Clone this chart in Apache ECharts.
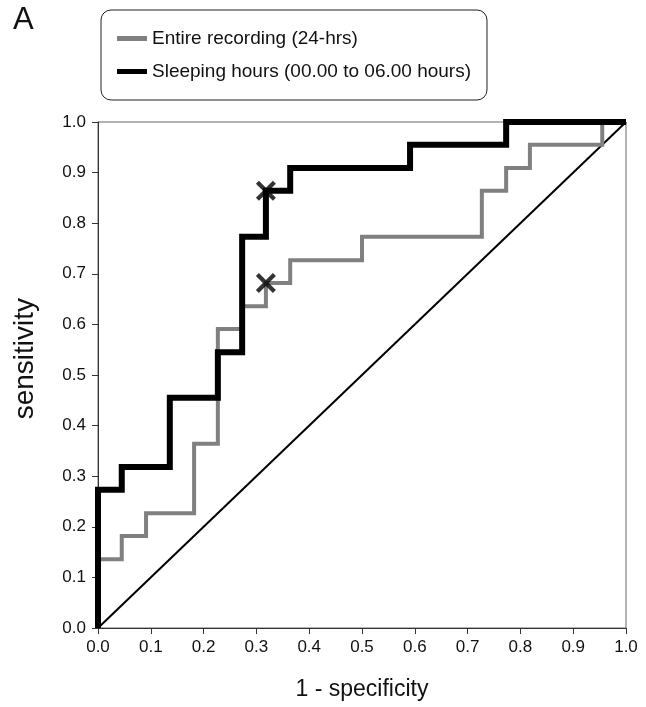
<!DOCTYPE html>
<html>
<head>
<meta charset="utf-8">
<script src="https://cdn.jsdelivr.net/npm/echarts@6/dist/echarts.min.js"></script>
<style>
html,body{margin:0;padding:0;background:#fff;}
#chart{width:646px;height:707px;}
</style>
</head>
<body>
<div id="chart"></div>
<script>
// ROC curve corner points (1 - specificity, sensitivity)
var entireFPR = [0,0,0.045,0.045,0.091,0.091,0.182,0.182,0.227,0.227,0.273,0.273,0.318,0.318,0.364,0.364,0.5,0.5,0.727,0.727,0.773,0.773,0.818,0.818,0.955,0.955,1.0];
var entireTPR = [0,0.136,0.136,0.182,0.182,0.227,0.227,0.364,0.364,0.591,0.591,0.636,0.636,0.682,0.682,0.727,0.727,0.773,0.773,0.864,0.864,0.909,0.909,0.955,0.955,1.0,1.0];
var sleepFPR = [0,0,0.045,0.045,0.136,0.136,0.227,0.227,0.273,0.273,0.318,0.318,0.364,0.364,0.591,0.591,0.773,0.773,1.0];
var sleepTPR = [0,0.273,0.273,0.318,0.318,0.455,0.455,0.545,0.545,0.773,0.773,0.864,0.864,0.909,0.909,0.955,0.955,1.0,1.0];
var diagFPR = [0,1];
var diagTPR = [0,1];
// optimal cut-off points marked with X
var cutFPR = [0.318,0.318];
var cutTPR = [0.864,0.682];
var tickLabels = ['0.0','0.1','0.2','0.3','0.4','0.5','0.6','0.7','0.8','0.9','1.0'];
var seriesNames = ['Entire recording (24-hrs)','Sleeping hours (00.00 to 06.00 hours)'];

function zip(a,b){return a.map(function(v,i){return [v,b[i]];});}

var chart = echarts.init(document.getElementById('chart'));
var FONT = '"Liberation Sans", Arial, sans-serif';
var axisCommon = {
  type:'value', min:0, max:1, interval:0.1,
  axisLine:{show:true, lineStyle:{color:'#333', width:1}},
  axisTick:{show:true, inside:false, length:6, lineStyle:{color:'#333'}},
  splitLine:{show:false},
  axisLabel:{color:'#111', fontSize:17, fontFamily:FONT,
    formatter:function(v){return tickLabels[Math.round(v*10)];}},
  nameLocation:'middle',
  nameTextStyle:{color:'#111', fontSize:23, fontFamily:FONT}
};
var xsym = 'path://M0,3 L3,0 L10,7 L17,0 L20,3 L13,10 L20,17 L17,20 L10,13 L3,20 L0,17 L7,10 Z';
chart.setOption({
  animation:false,
  backgroundColor:'#fff',
  title:{text:'A', left:8, top:0, textStyle:{fontSize:31, fontWeight:'normal', color:'#111', fontFamily:FONT}},
  legend:{
    data:[{name:seriesNames[0], icon:'rect'},{name:seriesNames[1], icon:'rect'}],
    orient:'vertical', left:101, top:10,
    padding:[19,16], itemGap:14, itemWidth:30, itemHeight:5,
    borderColor:'#222', borderWidth:1, borderRadius:10,
    textStyle:{fontSize:19, color:'#111', fontFamily:FONT}
  },
  graphic:[{
    type:'text', left:11, top:298,
    style:{text:'sensitivity', fill:'#111', font:'28px "Liberation Sans", Arial, sans-serif'},
    rotation:Math.PI/2, originX:0, originY:0
  }],
  grid:{left:98, right:20, top:122, bottom:79, show:true, borderColor:'#666', borderWidth:1, containLabel:false},
  xAxis:Object.assign({}, axisCommon, {name:'1 - specificity', nameGap:50,
    axisLabel:Object.assign({}, axisCommon.axisLabel, {margin:11})}),
  yAxis:Object.assign({}, axisCommon, {
    axisLabel:Object.assign({}, axisCommon.axisLabel, {margin:12})}),
  series:[
    {type:'line', name:'diag', data:zip(diagFPR,diagTPR), symbol:'none', silent:true,
      lineStyle:{color:'#000', width:2}, z:1},
    {type:'line', name:seriesNames[0], data:zip(entireFPR,entireTPR), symbol:'none',
      itemStyle:{color:'#808080'}, lineStyle:{color:'#808080', width:4, join:'miter'}, z:2},
    {type:'line', name:seriesNames[1], data:zip(sleepFPR,sleepTPR), symbol:'none',
      itemStyle:{color:'#000'}, lineStyle:{color:'#000', width:6, join:'miter'}, z:3},
    {type:'scatter', name:'cut', data:zip(cutFPR,cutTPR), symbol:xsym, symbolSize:20,
      itemStyle:{color:'#000'}, z:5}
  ]
});
</script>
</body>
</html>
